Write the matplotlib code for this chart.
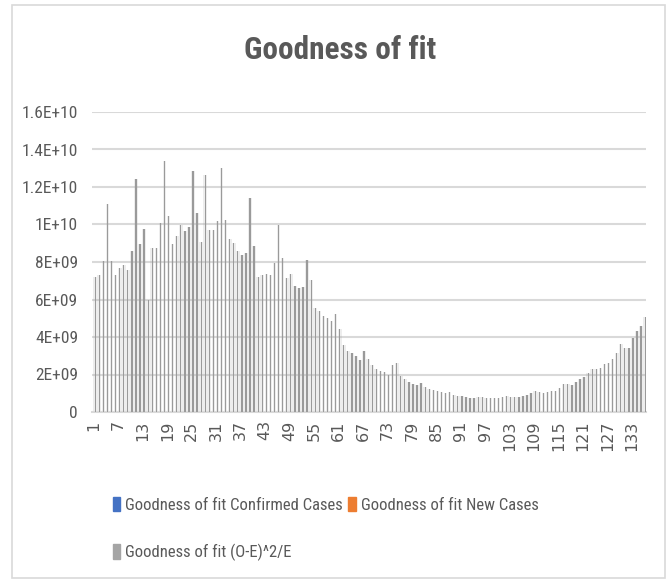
import matplotlib
matplotlib.use('Agg')
import matplotlib.pyplot as plt
from matplotlib.patches import Patch, Rectangle
from matplotlib import font_manager

# goodness of fit per day, in units of 1E+09
days = list(range(1, 137))
chi_sq_e9 = [
    7.22, 7.31, 8.08, 11.09, 8.08, 7.31, 7.70, 7.85, 7.58, 8.56,
    12.45, 8.95, 9.77, 5.97, 8.74, 8.74, 10.06, 13.37, 10.47, 8.95,
    9.36, 9.95, 9.63, 9.84, 12.87, 10.61, 9.09, 12.66, 9.72, 9.70,
    10.20, 13.02, 10.25, 9.24, 9.00, 8.56, 8.38, 8.47, 11.41, 8.83,
    7.22, 7.31, 7.36, 7.31, 7.93, 9.95, 8.20, 7.13, 7.36, 6.74,
    6.63, 6.69, 8.11, 7.04, 5.53, 5.38, 5.13, 5.03, 4.85, 5.22,
    4.42, 3.60, 3.25, 3.17, 3.00, 2.76, 3.25, 2.85, 2.50, 2.28,
    2.18, 2.14, 2.00, 2.50, 2.64, 1.93, 1.75, 1.60, 1.52, 1.43,
    1.55, 1.34, 1.21, 1.18, 1.12, 1.07, 1.03, 1.07, 0.89, 0.84,
    0.84, 0.82, 0.75, 0.75, 0.80, 0.78, 0.75, 0.75, 0.75, 0.75,
    0.78, 0.87, 0.82, 0.80, 0.82, 0.87, 0.93, 1.01, 1.10, 1.05,
    1.03, 1.05, 1.10, 1.14, 1.28, 1.50, 1.50, 1.46, 1.59, 1.77,
    1.86, 2.09, 2.32, 2.32, 2.36, 2.54, 2.63, 2.84, 3.16, 3.61,
    3.43, 3.43, 3.93, 4.33, 4.59, 5.07,
]
y_ticks = [0, 2e9, 4e9, 6e9, 8e9, 1e10, 1.2e10, 1.4e10, 1.6e10]
y_tick_labels = ['0', '2E+09', '4E+09', '6E+09', '8E+09', '1E+10',
                 '1.2E+10', '1.4E+10', '1.6E+10']
series_names = ['Goodness of fit Confirmed Cases',
                'Goodness of fit New Cases',
                'Goodness of fit (O-E)^2/E']
series_colors = ['#4472C4', '#ED7D31', '#A5A5A5']


def narrow_font():
    # pick a condensed sans face if one is installed
    fonts = font_manager.fontManager.ttflist
    for want in ['Roboto Condensed', 'Open Sans Condensed', 'Liberation Sans Narrow']:
        if any(f.name == want for f in fonts):
            return {'family': want}, 1.0
    if any(f.name == 'DejaVu Sans' and f.stretch == 'condensed' for f in fonts):
        return {'family': 'DejaVu Sans', 'stretch': 'condensed'}, 0.92
    return {'family': 'DejaVu Sans'}, 0.78


font, scale = narrow_font()
text_color = '#595959'
grid_color = '#D9D9D9'

W, H = 669, 582
fig = plt.figure(figsize=(W / 100, H / 100), dpi=100)

# outer chart border
fig.patches.append(Rectangle((12 / W, 4 / H), 653 / W, 573 / H,
                             transform=fig.transFigure, fill=False,
                             edgecolor=grid_color, linewidth=1.2))

left, right, top, bottom = 92, 646, 112, 412
ax = fig.add_axes([left / W, 1 - bottom / H, (right - left) / W, (bottom - top) / H])

values = [v * 1e9 for v in chi_sq_e9]
xpos = [d + 0.3 for d in days]
# soft halo, then the bars themselves
ax.bar(xpos, values, width=0.9, color=series_colors[2], alpha=0.2, linewidth=0, zorder=2)
ax.bar(xpos, values, width=0.32, color='#9A9A9A', linewidth=0, zorder=3)

ax.set_xlim(0.5, 136.5)
ax.set_ylim(0, 1.6e10)
ax.set_yticks(y_ticks)
ax.set_yticklabels(y_tick_labels, fontsize=12.5 * scale, color=text_color, **font)
ax.set_xticks(days[::6])
ax.set_xticklabels([str(d) for d in days[::6]], rotation=90, fontsize=11.5,
                   color=text_color, family='DejaVu Sans')
ax.tick_params(length=0, pad=10)
ax.tick_params(axis='x', pad=6)
ax.grid(axis='y', color=grid_color, linewidth=1.5, zorder=0)
for side in ['top', 'right', 'left']:
    ax.spines[side].set_visible(False)
ax.spines['bottom'].set_color(grid_color)
ax.spines['bottom'].set_linewidth(1.5)

fig.text(340 / W, 1 - 50 / H, 'Goodness of fit', ha='center', va='center',
         fontsize=22.5 * scale, fontweight='bold', color=text_color, **font)

handles = [Patch(color=c) for c in series_colors]
order = [0, 2, 1]
leg = fig.legend([handles[i] for i in order], [series_names[i] for i in order],
                 ncol=2, loc='upper left', bbox_to_anchor=(98 / W, 1 - 482 / H),
                 frameon=False, handlelength=0.45, handleheight=0.95, handletextpad=0.3,
                 columnspacing=0.3, labelspacing=1.85,
                 prop=dict(size=12 * scale, **font))
for t in leg.get_texts():
    t.set_color(text_color)

fig.savefig('out.png', dpi=100)
